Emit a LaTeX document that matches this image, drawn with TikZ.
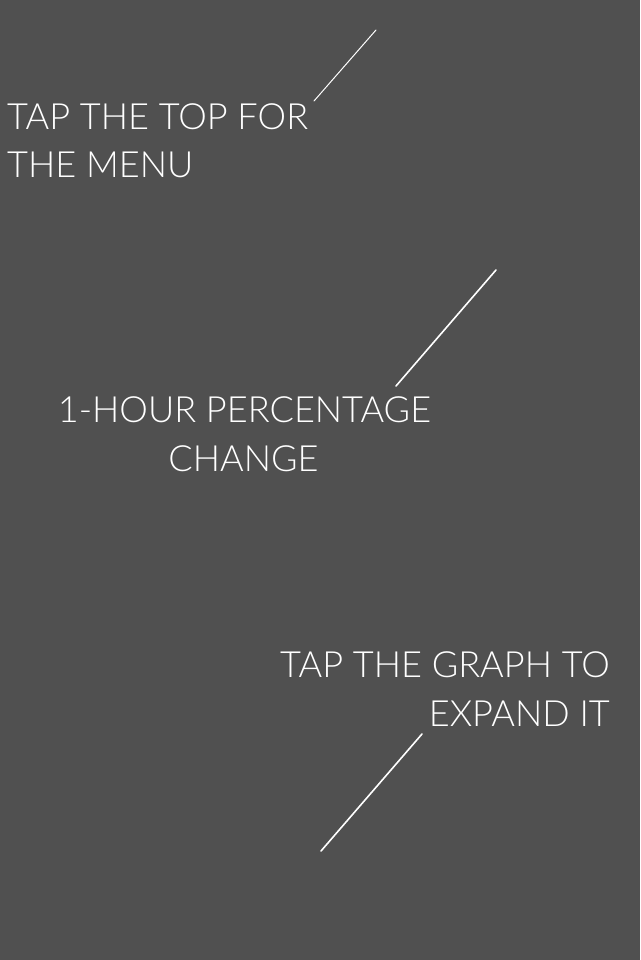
\documentclass[tikz,border=0pt]{standalone}
\usepackage{fontspec}
\setmainfont{Lato Light}
\definecolor{bg}{HTML}{505050}
\begin{document}
\begin{tikzpicture}[x=1pt,y=-1pt,
  lbl/.style={text=white,inner sep=0pt,font=\fontsize{36.1}{44}\selectfont},
  pointer/.style={draw=white,line cap=round}]
\fill[bg] (0,0) rectangle (640,960);
\useasboundingbox (0,0) rectangle (640,960);
% top label
\node[lbl,anchor=base west] (t1a) at (7,130) {TAP THE TOP FOR};
\node[lbl,anchor=base west] (t1b) at (7,178) {THE MENU};
\coordinate (p1a) at (376,30);
\coordinate (p1b) at (314,101);
\draw[pointer,line width=1pt] (p1a) -- (p1b);
% middle label
\node[lbl,anchor=base] (t2a) at (244.5,422) {1-HOUR PERCENTAGE};
\node[lbl,anchor=base] (t2b) at (243.5,471) {CHANGE};
\coordinate (p2a) at (496,270);
\coordinate (p2b) at (396,386);
\draw[pointer,line width=1.6pt] (p2a) -- (p2b);
% bottom label
\node[lbl,anchor=base east] (t3a) at (610,677) {TAP THE GRAPH TO};
\node[lbl,anchor=base east] (t3b) at (610,726) {EXPAND IT};
\coordinate (p3a) at (422,734);
\coordinate (p3b) at (321,851);
\draw[pointer,line width=1.6pt] (p3a) -- (p3b);
\end{tikzpicture}
\end{document}
